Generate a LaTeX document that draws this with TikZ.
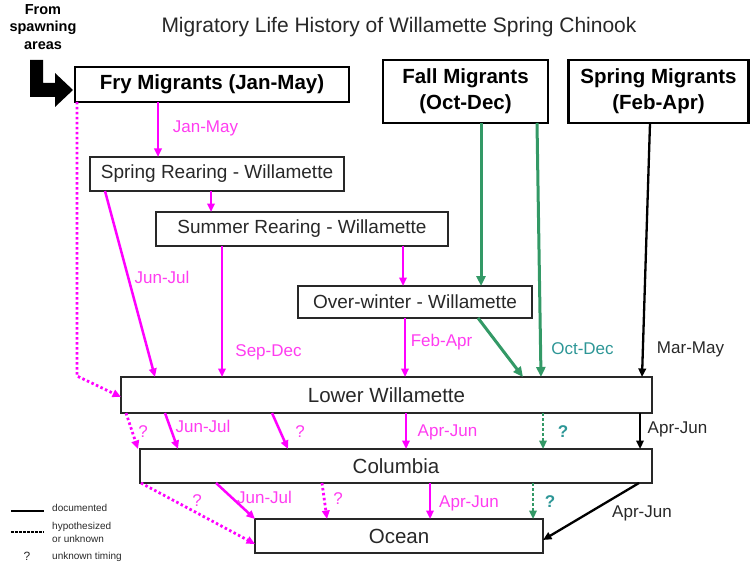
\documentclass[tikz,border=0pt]{standalone}
\usepackage{fontspec}
\setmainfont{Liberation Sans}
\usetikzlibrary{arrows.meta,calc}
\definecolor{mag}{RGB}{255,0,255}
\definecolor{maglab}{RGB}{255,60,240}
\definecolor{grn}{RGB}{51,153,102}
\definecolor{tealab}{RGB}{45,150,150}
\definecolor{txt}{RGB}{40,40,40}
\begin{document}
\begin{tikzpicture}[x=1pt,y=-1pt,
  box/.style={draw=txt, line width=1.5pt, fill=white, inner sep=0pt, outer sep=0pt, text=txt, font=\fontsize{19}{22}\selectfont},
  lowbox/.style={box, font=\fontsize{20.5}{24}\selectfont},
  bigbox/.style={box, draw=black, line width=2.6pt, text=black, align=center, font=\bfseries\fontsize{20.5}{26}\selectfont},
  tip/.style={-{Triangle[length=8.5pt,width=7.5pt]}},
  magarrow/.style={draw=mag, line width=2.5pt, tip},
  magdot/.style={magarrow, line width=2.8pt, dash pattern=on 2.5pt off 2.5pt},
  grnarrow/.style={draw=grn, line width=3pt, -{Triangle[length=10pt,width=9pt]}},
  grndot/.style={draw=grn, line width=2.6pt, tip, dash pattern=on 2.5pt off 2.5pt},
  blkarrow/.style={draw=black, line width=2.3pt, tip},
  lab/.style={text=maglab, inner sep=0pt, font=\fontsize{17}{20}\selectfont},
  tlab/.style={lab, text=tealab, font=\bfseries\fontsize{17}{20}\selectfont},
  blab/.style={lab, text=txt},
  leg/.style={text=txt, inner sep=0pt, anchor=west, align=left, font=\fontsize{10}{13}\selectfont}
]
\useasboundingbox (0,0) rectangle (751,564);

% title
\node[text=txt, font=\fontsize{21}{24}\selectfont] (title) at (399,27) {Migratory Life History of Willamette Spring Chinook};

% from spawning areas
\node[align=center, font=\bfseries\fontsize{14.5}{17.5}\selectfont] (spawn) at (43,27) {From\\spawning\\areas};
\fill[black] (30,60) -- (43,60) -- (43,83) -- (55,83) -- (55,73) -- (73,90) -- (55,107) -- (55,97) -- (30,97) -- cycle;

% boxes
\node[bigbox, minimum width=274, minimum height=35] (fry) at (212,84.5) {Fry Migrants (Jan-May)};
\node[bigbox, minimum width=165, minimum height=63] (fall) at (465.5,91.5) {Fall Migrants\\(Oct-Dec)};
\node[bigbox, minimum width=180, minimum height=63] (spm) at (658.5,91.5) {Spring Migrants\\(Feb-Apr)};
\node[box, minimum width=254, minimum height=34] (spr) at (217,174) {Spring Rearing - Willamette};
\node[box, minimum width=292, minimum height=34] (sum) at (302,229) {Summer Rearing - Willamette};
\node[box, minimum width=234, minimum height=32] (ow) at (415,302) {Over-winter - Willamette};
\node[lowbox, minimum width=531, minimum height=36] (lw) at (386.5,395) {Lower Willamette};
\node[lowbox, minimum width=512, minimum height=34] (col) at (396,466) {Columbia};
\node[lowbox, minimum width=288, minimum height=34] (oc) at (399,536) {Ocean};

% fry outputs
\draw[magarrow] (fry.south -| 158,0) -- (spr.north -| 158,0);
\node[lab] (l1) at (205.5,128) {Jan-May};
\coordinate (frycorner) at (77,376);
\draw[magdot] (fry.south -| 77,0) -- (frycorner) -- (lw.west |- 0,397);

% spring rearing
\draw[magarrow] (spr.south -| 211,0) -- (sum.north -| 211,0);
\draw[magarrow] (spr.south -| 105,0) -- (lw.north -| 155,0);
\node[lab] (l2) at (162,277) {Jun-Jul};

% summer rearing
\draw[magarrow] (sum.south -| 222,0) -- (lw.north -| 222,0);
\node[lab] (l3) at (268.5,352) {Sep-Dec};
\draw[magarrow] (sum.south -| 403,0) -- (ow.north -| 403,0);

% over-winter
\draw[magarrow] (ow.south -| 405,0) -- (lw.north -| 405,0);
\node[lab] (l4) at (441.5,342) {Feb-Apr};
\draw[grnarrow] (ow.south -| 478,0) -- (lw.north -| 523,0);

% fall migrants
\draw[grnarrow] (fall.south -| 481,0) -- (ow.north -| 481,0);
\draw[grnarrow] (fall.south -| 537,0) -- (lw.north -| 541,0);
\node[lab, text=tealab] (l5) at (582.5,349) {Oct-Dec};

% spring migrants
\draw[blkarrow] (spm.south -| 650,0) -- (lw.north -| 642,0);
\node[blab] (l6) at (690.5,349) {Mar-May};

% lower willamette -> columbia
\draw[magdot] (lw.south -| 126,0) -- (col.north -| 138,0);
\node[lab] (q1) at (143,432) {?};
\draw[magarrow] (lw.south -| 165,0) -- (col.north -| 178,0);
\node[lab] (l7) at (203,426) {Jun-Jul};
\draw[magarrow] (lw.south -| 272,0) -- (col.north -| 288,0);
\node[lab] (q2) at (300,432) {?};
\draw[magarrow] (lw.south -| 406,0) -- (col.north -| 406,0);
\node[lab] (l8) at (447.5,432) {Apr-Jun};
\draw[grndot] (lw.south -| 543,0) -- (col.north -| 543,0);
\node[tlab] (q3) at (563,432) {?};
\draw[blkarrow] (lw.south -| 640,0) -- (col.north -| 640,0);
\node[blab] (l9) at (677.5,429) {Apr-Jun};

% columbia -> ocean
\draw[magdot] (col.south -| 141,0) -- (oc.west |- 0,544);
\node[lab] (q4) at (197,501) {?};
\draw[magarrow] (col.south -| 216,0) -- (oc.north -| 255,0);
\node[lab] (l10) at (264.5,497) {Jun-Jul};
\draw[magdot] (col.south -| 322,0) -- (oc.north -| 327,0);
\node[lab] (q5) at (338,499) {?};
\draw[magarrow] (col.south -| 430,0) -- (oc.north -| 430,0);
\node[lab] (l11) at (469,503) {Apr-Jun};
\draw[grndot] (col.south -| 533,0) -- (oc.north -| 533,0);
\node[tlab] (q6) at (550,502) {?};
\draw[blkarrow] (col.south -| 639,0) -- (oc.east |- 0,540);
\node[blab] (l12) at (642,513) {Apr-Jun};

% legend
\coordinate (lga) at (11,511); \coordinate (lgb) at (44,511);
\draw[black, line width=2.5pt] (lga) -- (lgb);
\node[leg] (lg1) at (52,508) {documented};
\coordinate (lgc) at (11,532); \coordinate (lgd) at (44,532);
\draw[black, line width=2.5pt, dash pattern=on 2.5pt off 1.5pt] (lgc) -- (lgd);
\node[leg] (lg2) at (52,532) {hypothesized\\or unknown};
\node[text=txt, inner sep=0pt, font=\fontsize{12}{14}\selectfont] (lgq) at (27,556) {?};
\node[leg] (lg3) at (52,557) {unknown timing};
\end{tikzpicture}
\end{document}
